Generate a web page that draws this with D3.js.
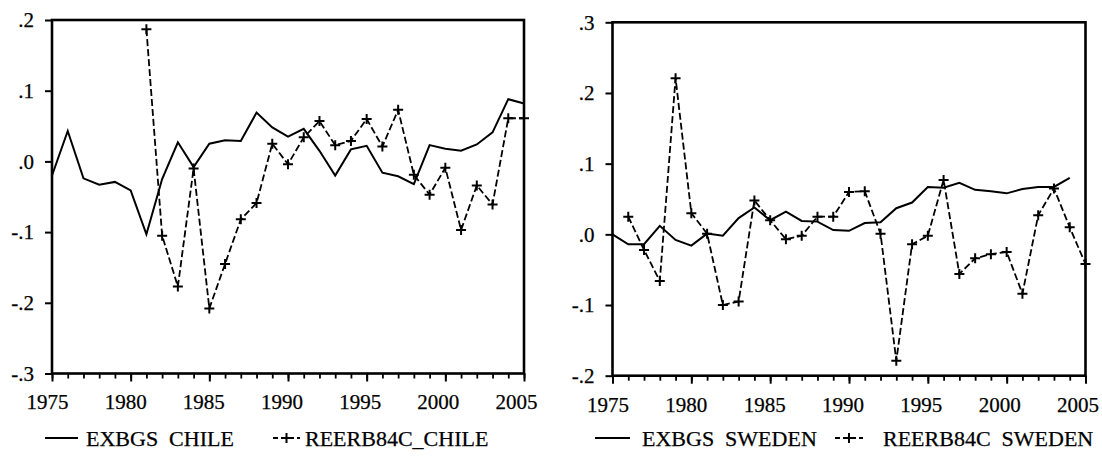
<!DOCTYPE html>
<html>
<head>
<meta charset="utf-8">
<script src="https://cdn.jsdelivr.net/npm/d3@7"></script>
<style>
  body { margin: 0; background: #fff; }
  svg text { font-family: "Liberation Serif", "Times New Roman", serif; font-size: 21px; fill: #000; stroke: #000; stroke-width: 0.25px; white-space: pre; }
  svg text.legend { font-size: 22px; }
</style>
</head>
<body>
<div id="chart"></div>
<script>
// years 1975..2005
var years = d3.range(1975, 2006);

// Chile
var exbgsChile = [-0.020, 0.043, -0.024, -0.033, -0.029, -0.041, -0.103, -0.025, 0.027, -0.008,
                  0.025, 0.030, 0.029, 0.069, 0.048, 0.035, 0.046, 0.015, -0.020, 0.017,
                  0.022, -0.016, -0.021, -0.032, 0.023, 0.018, 0.015, 0.024, 0.041, 0.088, 0.082];
var reerChileYears = d3.range(1981, 2006);
var reerChile = [0.187, -0.105, -0.177, -0.010, -0.208, -0.145, -0.082, -0.059, 0.025, -0.004,
                 0.034, 0.057, 0.023, 0.029, 0.060, 0.021, 0.073, -0.019, -0.047, -0.009,
                 -0.097, -0.034, -0.061, 0.061, 0.061];

// Sweden
var exbgsSwedenYears = d3.range(1975, 2005);
var exbgsSweden = [0.000, -0.014, -0.014, 0.012, -0.008, -0.016, 0.001, -0.002, 0.023, 0.038,
                   0.020, 0.032, 0.019, 0.018, 0.006, 0.005, 0.016, 0.017, 0.037, 0.045,
                   0.067, 0.066, 0.073, 0.063, 0.061, 0.058, 0.064, 0.067, 0.067, 0.080];
var reerSwedenYears = d3.range(1976, 2006);
var reerSweden = [0.025, -0.022, -0.066, 0.221, 0.030, 0.001, -0.100, -0.095, 0.048, 0.020,
                  -0.007, -0.002, 0.025, 0.025, 0.060, 0.061, 0.001, -0.179, -0.014, -0.002,
                  0.077, -0.056, -0.034, -0.028, -0.025, -0.084, 0.027, 0.065, 0.010, -0.042];

var panels = [
  { box: {left: 52, right: 524, top: 20, bottom: 373.5}, yDomain: [-0.3, 0.2],
    yTicks: [-0.3, -0.2, -0.1, 0, 0.1, 0.2],
    solid: {x: years, y: exbgsChile}, dashed: {x: reerChileYears, y: reerChile},
    legend: {lineX: [45, 78], text1X: 86, text1: "EXBGS  CHILE", symX: [273, 300], text2X: 305, text2: "REERB84C_CHILE"} },
  { box: {left: 612.5, right: 1085.5, top: 22.3, bottom: 375.7}, yDomain: [-0.2, 0.3],
    yTicks: [-0.2, -0.1, 0, 0.1, 0.2, 0.3],
    solid: {x: exbgsSwedenYears, y: exbgsSweden}, dashed: {x: reerSwedenYears, y: reerSweden},
    legend: {lineX: [595, 630], text1X: 642, text1: "EXBGS  SWEDEN", symX: [835, 863], text2X: 883, text2: "REERB84C  SWEDEN"} }
];

var svg = d3.select("#chart").append("svg")
  .attr("width", 1102).attr("height", 457);

function fmt(v) {
  var n = Math.round(Math.abs(v) * 10);
  return (v < -1e-9 ? "-" : "") + "." + n;
}

function plus(g, x, y) {
  g.append("path")
    .attr("d", "M" + (x - 5) + "," + y + "H" + (x + 5) + "M" + x + "," + (y - 5) + "V" + (y + 5))
    .attr("stroke", "#000").attr("stroke-width", 2).attr("fill", "none");
}

panels.forEach(function(p) {
  var b = p.box;
  var x = d3.scaleLinear().domain([1975, 2005]).range([b.left, b.right]);
  var y = d3.scaleLinear().domain(p.yDomain).range([b.bottom, b.top]);
  var g = svg.append("g");

  // minor ticks every year
  g.append("g")
    .attr("transform", "translate(0," + b.bottom + ")")
    .call(d3.axisBottom(x).tickValues(years).tickSize(5).tickFormat(""))
    .call(function(a) { a.select(".domain").remove(); a.selectAll("line").attr("stroke-width", 1.8); });

  // major ticks with labels (labels sit a little left of their ticks)
  g.append("g")
    .attr("transform", "translate(0," + b.bottom + ")")
    .call(d3.axisBottom(x).tickValues(d3.range(1975, 2006, 5)).tickSize(8).tickPadding(13).tickFormat(d3.format("d")))
    .call(function(a) {
      a.select(".domain").remove();
      a.selectAll("line").attr("stroke-width", 2);
      a.selectAll("text").attr("font-size", null).attr("font-family", null)
        .attr("dx", function(d) { return -5 - 3 * (d - 1975) / 30; });
    });

  // y axis
  g.append("g")
    .attr("transform", "translate(" + b.left + ",0)")
    .call(d3.axisLeft(y).tickValues(p.yTicks).tickSize(7).tickPadding(11).tickFormat(fmt))
    .call(function(a) {
      a.select(".domain").remove();
      a.selectAll("line").attr("stroke-width", 2);
      a.selectAll("text").attr("font-size", null).attr("font-family", null);
    });

  // frame
  g.append("rect")
    .attr("x", b.left).attr("y", b.top)
    .attr("width", b.right - b.left).attr("height", b.bottom - b.top)
    .attr("fill", "none").attr("stroke", "#000").attr("stroke-width", 2.6);

  var line = d3.line().x(function(d) { return x(d[0]); }).y(function(d) { return y(d[1]); });

  var solidData = d3.zip(p.solid.x, p.solid.y);
  g.append("path").datum(solidData)
    .attr("d", line).attr("fill", "none").attr("stroke", "#000")
    .attr("stroke-width", 2).attr("stroke-linejoin", "miter");

  var dashData = d3.zip(p.dashed.x, p.dashed.y);
  g.append("path").datum(dashData)
    .attr("d", line).attr("fill", "none").attr("stroke", "#000")
    .attr("stroke-width", 1.8).attr("stroke-dasharray", "7,3");
  dashData.forEach(function(d) { plus(g, x(d[0]), y(d[1])); });

  // legend
  var L = p.legend, ly = 438;
  g.append("line").attr("x1", L.lineX[0]).attr("x2", L.lineX[1]).attr("y1", ly).attr("y2", ly)
    .attr("stroke", "#000").attr("stroke-width", 1.8);
  g.append("text").attr("class", "legend").attr("x", L.text1X).attr("y", ly + 8).text(L.text1);
  g.append("line").attr("x1", L.symX[0]).attr("x2", L.symX[1]).attr("y1", ly).attr("y2", ly)
    .attr("stroke", "#000").attr("stroke-width", 1.8).attr("stroke-dasharray", "5,3");
  plus(g, (L.symX[0] + L.symX[1]) / 2, ly);
  g.append("text").attr("class", "legend").attr("x", L.text2X).attr("y", ly + 8).text(L.text2);
});
</script>
</body>
</html>
